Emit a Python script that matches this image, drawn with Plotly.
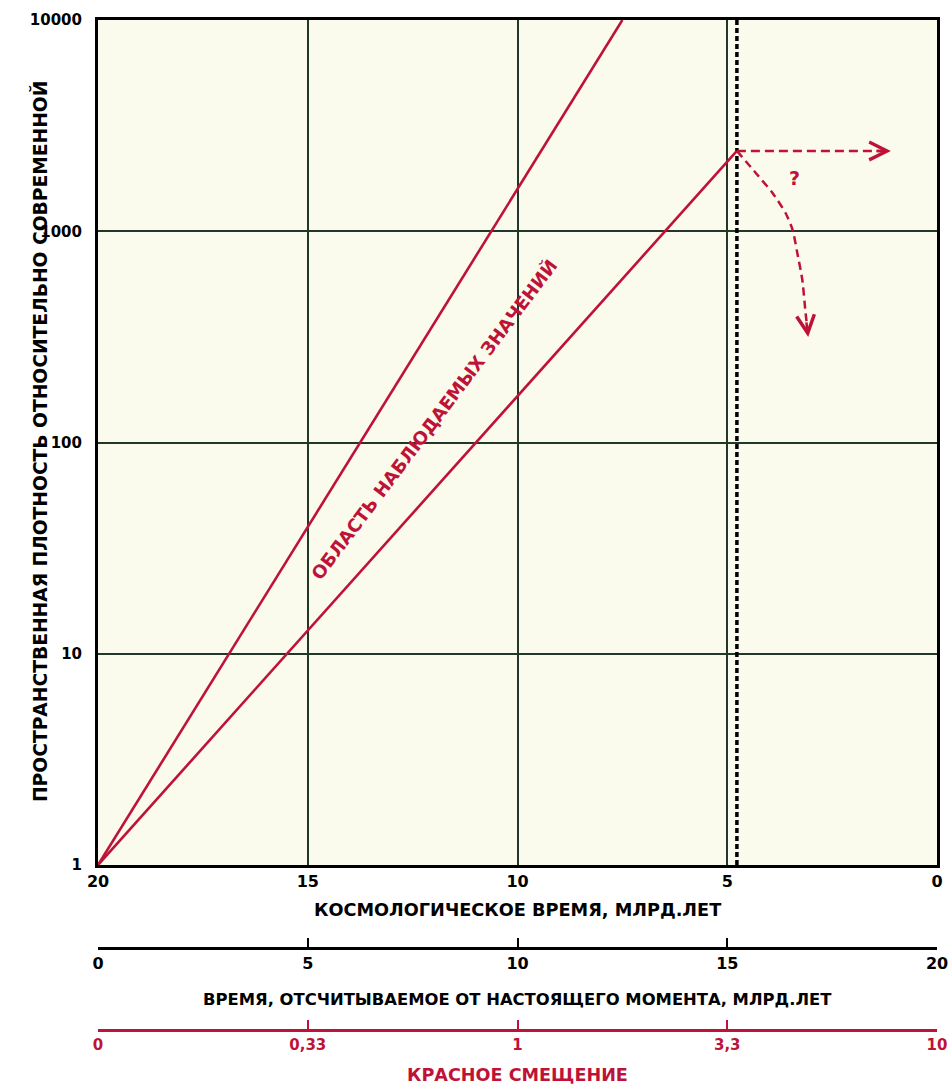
import math
import plotly.graph_objects as go

# ---- data ----
time_ticks = [20, 15, 10, 5, 0]
density_ticks = [1, 10, 100, 1000, 10000]
density_labels = ["1", "10", "100", "1000", "10000"]

upper_time = [20, 7.5]
upper_density = [1, 10000]
lower_time = [20, 4.77]
lower_density = [1, 2400]

flat_time = [4.77, 1.1]
flat_density = [2400, 2400]
drop_time = [4.77, 4.32, 3.92, 3.61, 3.44, 3.33, 3.21, 3.14, 3.07]
drop_density = [2400, 1888, 1517, 1220, 1013, 789, 588, 424, 316]

now_time = 4.77
now_range = [1, 10000]

lookback_ticks = [0, 5, 10, 15, 20]
lookback_labels = ["0", "5", "10", "15", "20"]
redshift_ticks = [0, 5, 10, 15, 20]
redshift_labels = ["0", "0,33", "1", "3,3", "10"]

question_pos = (3.40, 1786)
label_pos = (11.98, 128)

RED = "#bf1238"
GRID = "#22362a"
FONT = "DejaVu Sans"

fig = go.Figure()

fig.add_trace(go.Scatter(x=[now_time, now_time], y=now_range, mode="lines",
                         line=dict(color="black", width=3.5, dash="5px,3px"),
                         showlegend=False, hoverinfo="skip"))
fig.add_trace(go.Scatter(x=upper_time, y=upper_density, mode="lines",
                         line=dict(color=RED, width=2.6), showlegend=False))
fig.add_trace(go.Scatter(x=lower_time, y=lower_density, mode="lines",
                         line=dict(color=RED, width=2.6), showlegend=False))
fig.add_trace(go.Scatter(x=flat_time, y=flat_density, mode="lines",
                         line=dict(color=RED, width=2.5, dash="9px,5px"), showlegend=False))
fig.add_trace(go.Scatter(x=drop_time, y=drop_density, mode="lines",
                         line=dict(color=RED, width=2.5, dash="8px,5px", shape="spline",
                                   smoothing=0.6),
                         showlegend=False))
# invisible traces so the secondary axes are drawn
fig.add_trace(go.Scatter(x=lookback_ticks, y=[density_ticks[0]] * len(lookback_ticks),
                         xaxis="x2", yaxis="y", mode="markers", marker=dict(opacity=0),
                         showlegend=False, hoverinfo="skip"))
fig.add_trace(go.Scatter(x=redshift_ticks, y=[density_ticks[0]] * len(redshift_ticks),
                         xaxis="x3", yaxis="y", mode="markers", marker=dict(opacity=0),
                         showlegend=False, hoverinfo="skip"))

L = math.log10
# arrowheads
fig.add_annotation(x=flat_time[-1], y=L(flat_density[-1]), xref="x", yref="y", text="",
                   showarrow=True, arrowhead=5, arrowsize=1.4, arrowwidth=2.5,
                   arrowcolor=RED, ax=-16, ay=0, standoff=0)
fig.add_annotation(x=drop_time[-1], y=L(drop_density[-1]), xref="x", yref="y", text="",
                   showarrow=True, arrowhead=5, arrowsize=1.4, arrowwidth=2.5,
                   arrowcolor=RED, ax=-2, ay=-16, standoff=0)
fig.add_annotation(x=question_pos[0], y=L(question_pos[1]), xref="x", yref="y",
                   text="<b>?</b>", showarrow=False,
                   font=dict(family=FONT, size=19, color=RED))
fig.add_annotation(x=label_pos[0], y=L(label_pos[1]), xref="x", yref="y",
                   text="<b>ОБЛАСТЬ НАБЛЮДАЕМЫХ ЗНАЧЕНИЙ</b>", showarrow=False,
                   textangle=-53, font=dict(family=FONT, size=18, color=RED))

# axis titles
fig.add_annotation(x=0.5, y=0.1564, xref="paper", yref="paper", yanchor="middle",
                   xanchor="center",
                   text="<b>КОСМОЛОГИЧЕСКОЕ ВРЕМЯ, МЛРД.ЛЕТ</b>", showarrow=False,
                   font=dict(family=FONT, size=17.7, color="black"))
fig.add_annotation(x=0.5, y=0.0711, xref="paper", yref="paper", yanchor="middle",
                   xanchor="center",
                   text="<b>ВРЕМЯ, ОТСЧИТЫВАЕМОЕ ОТ НАСТОЯЩЕГО МОМЕНТА, МЛРД.ЛЕТ</b>",
                   showarrow=False, font=dict(family=FONT, size=16.4, color="black"))
fig.add_annotation(x=0.5, y=0.0, xref="paper", yref="paper", yanchor="middle",
                   xanchor="center",
                   text="<b>КРАСНОЕ СМЕЩЕНИЕ</b>", showarrow=False,
                   font=dict(family=FONT, size=17.6, color=RED))
fig.add_annotation(x=-0.0691, y=0.6, xref="paper", yref="paper", textangle=-90,
                   xanchor="center", yanchor="middle",
                   text="<b>ПРОСТРАНСТВЕННАЯ ПЛОТНОСТЬ ОТНОСИТЕЛЬНО СОВРЕМЕННОЙ</b>",
                   showarrow=False, font=dict(family=FONT, size=18.7, color="black"))

fig.update_layout(
    width=949, height=1085,
    margin=dict(l=98, r=12, t=20, b=10, autoexpand=False),
    paper_bgcolor="white",
    plot_bgcolor="#fafbec",
    showlegend=False,
    xaxis=dict(range=[20, 0], tickvals=time_ticks, ticktext=[str(v) for v in time_ticks],
               showgrid=True, gridcolor=GRID, gridwidth=1.5, zeroline=False,
               showline=True, linecolor="black", linewidth=3, mirror=True,
               ticks="", ticklabeloverflow="allow", automargin=False,
               tickfont=dict(family=FONT, size=16, color="black", weight="bold"),
               anchor="y"),
    yaxis=dict(type="log", range=[0, 4], domain=[0.19905, 1],
               tickvals=density_ticks, ticktext=density_labels,
               showgrid=True, gridcolor=GRID, gridwidth=1.5, zeroline=False,
               showline=True, linecolor="black", linewidth=3, mirror=True,
               ticks="", ticklabelstandoff=10, automargin=False,
               tickfont=dict(family=FONT, size=15, color="black", weight="bold")),
    xaxis2=dict(range=[0, 20], overlaying="x", anchor="free", position=0.12038,
                tickvals=lookback_ticks, ticktext=lookback_labels, side="bottom",
                showgrid=False, zeroline=False, showline=True, linecolor="black",
                linewidth=2.5, ticks="inside", ticklen=9, tickwidth=2, tickcolor="black",
                ticklabeloverflow="allow", automargin=False,
                tickfont=dict(family=FONT, size=16, color="black", weight="bold")),
    xaxis3=dict(range=[0, 20], overlaying="x", anchor="free", position=0.04265,
                tickvals=redshift_ticks, ticktext=redshift_labels, side="bottom",
                showgrid=False, zeroline=False, showline=True, linecolor=RED,
                linewidth=2.5, ticks="inside", ticklen=9, tickwidth=2, tickcolor=RED,
                ticklabeloverflow="allow", automargin=False,
                tickfont=dict(family=FONT, size=15, color=RED, weight="bold")),
)

fig.write_html("out.html")
